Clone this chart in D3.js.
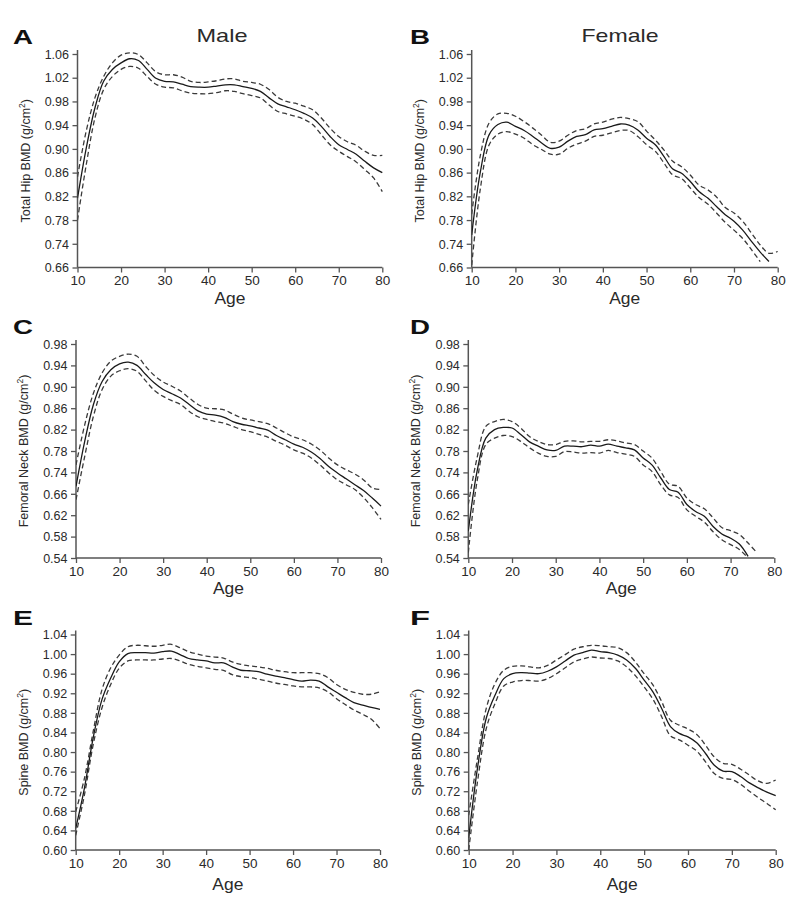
<!DOCTYPE html>
<html>
<head>
<meta charset="utf-8">
<script src="https://cdn.jsdelivr.net/npm/d3@7"></script>
<style>
  html, body { margin: 0; padding: 0; background: #fff; }
  svg { display: block; font-family: "Liberation Sans", Arial, Helvetica, sans-serif; }
</style>
</head>
<body>
<svg id="chart" width="802" height="902"></svg>
<script>
// ---------------- DATA ----------------
const AGES = [10,12,14,16,18,20,22,24,26,28,30,32,34,36,38,40,42,44,46,48,50,52,54,56,58,60,62,64,66,68,70,72,74,76,78,80];
const AGE_TICKS = [10,20,30,40,50,60,70,80];

const HIP_TICKS   = ["1.06","1.02","0.98","0.94","0.90","0.86","0.82","0.78","0.74","0.66"];
const NECK_TICKS  = ["0.98","0.94","0.90","0.86","0.82","0.78","0.74","0.66","0.62","0.58","0.54"];
const SPINE_TICKS = ["1.04","1.00","0.96","0.92","0.88","0.84","0.80","0.76","0.72","0.68","0.64","0.60"];

// Panel A – Male total hip
const A_mean  = [0.817,0.901,0.969,1.014,1.034,1.045,1.052,1.049,1.034,1.019,1.014,1.013,1.009,1.005,1.004,1.004,1.006,1.008,1.008,1.005,1.002,0.997,0.986,0.976,0.971,0.966,0.960,0.952,0.938,0.921,0.907,0.899,0.891,0.879,0.868,0.860];
const A_upper = [0.853,0.930,0.986,1.022,1.045,1.058,1.062,1.059,1.045,1.030,1.025,1.025,1.021,1.014,1.012,1.013,1.015,1.018,1.018,1.014,1.012,1.009,1.000,0.987,0.980,0.977,0.972,0.966,0.952,0.935,0.921,0.912,0.906,0.896,0.889,0.889];
const A_lower = [0.780,0.873,0.952,1.000,1.022,1.034,1.039,1.036,1.022,1.009,1.004,1.003,0.998,0.994,0.993,0.993,0.995,0.998,0.997,0.993,0.990,0.986,0.974,0.963,0.959,0.955,0.950,0.941,0.924,0.907,0.896,0.887,0.878,0.865,0.851,0.828];

// Panel B – Female total hip
const B_mean  = [0.755,0.862,0.924,0.941,0.945,0.938,0.931,0.921,0.910,0.901,0.903,0.913,0.921,0.924,0.932,0.934,0.938,0.942,0.940,0.932,0.918,0.907,0.887,0.866,0.859,0.845,0.828,0.817,0.803,0.789,0.778,0.763,0.744,0.726,0.710,null];
const B_upper = [0.790,0.890,0.944,0.959,0.960,0.955,0.946,0.935,0.923,0.911,0.913,0.923,0.931,0.934,0.942,0.945,0.950,0.953,0.951,0.946,0.930,0.915,0.898,0.879,0.870,0.856,0.839,0.831,0.819,0.801,0.792,0.778,0.758,0.738,0.724,0.727];
const B_lower = [0.704,0.834,0.907,0.925,0.929,0.925,0.918,0.907,0.899,0.891,0.891,0.901,0.908,0.913,0.921,0.923,0.927,0.931,0.931,0.921,0.907,0.896,0.876,0.856,0.850,0.834,0.818,0.807,0.792,0.776,0.763,0.749,0.730,0.710,null,null];

// Panel C – Male femoral neck
const C_mean  = [0.714,0.798,0.867,0.910,0.932,0.943,0.946,0.940,0.923,0.907,0.895,0.887,0.879,0.867,0.855,0.849,0.847,0.843,0.835,0.830,0.827,0.823,0.819,0.809,0.801,0.793,0.787,0.778,0.766,0.751,0.739,0.728,0.717,0.706,0.692,0.677];
const C_upper = [0.754,0.829,0.888,0.926,0.948,0.957,0.961,0.957,0.938,0.921,0.909,0.901,0.892,0.879,0.867,0.860,0.859,0.857,0.849,0.842,0.838,0.835,0.831,0.823,0.814,0.806,0.801,0.793,0.782,0.767,0.754,0.745,0.737,0.726,0.711,0.708];
const C_lower = [0.689,0.770,0.845,0.895,0.920,0.930,0.934,0.929,0.911,0.893,0.882,0.874,0.867,0.854,0.844,0.839,0.835,0.832,0.826,0.820,0.816,0.811,0.806,0.798,0.791,0.782,0.776,0.767,0.754,0.739,0.726,0.717,0.708,0.693,0.674,0.652];

// Panel D – Female femoral neck
const D_mean  = [0.630,0.742,0.804,0.820,0.824,0.823,0.811,0.797,0.789,0.782,0.781,0.789,0.789,0.788,0.791,0.789,0.793,0.789,0.786,0.782,0.767,0.754,0.730,0.708,0.703,0.680,0.667,0.658,0.639,0.625,0.617,0.606,0.583,null,null,null];
const D_upper = [0.680,0.767,0.826,0.835,0.839,0.835,0.823,0.807,0.798,0.792,0.792,0.798,0.799,0.797,0.798,0.798,0.801,0.799,0.795,0.792,0.780,0.767,0.742,0.718,0.714,0.692,0.680,0.672,0.655,0.637,0.631,0.624,0.608,0.590,null,null];
const D_lower = [0.590,0.723,0.792,0.804,0.809,0.807,0.798,0.786,0.776,0.770,0.770,0.779,0.778,0.776,0.777,0.776,0.781,0.777,0.774,0.770,0.754,0.742,0.717,0.698,0.693,0.670,0.658,0.647,0.629,0.614,0.605,0.596,0.580,null,null,null];

// Panel E – Male spine
const E_mean  = [0.644,0.726,0.828,0.906,0.950,0.984,1.001,1.003,1.003,1.002,1.005,1.006,0.999,0.991,0.988,0.986,0.982,0.982,0.974,0.967,0.966,0.964,0.959,0.955,0.952,0.948,0.945,0.947,0.945,0.933,0.922,0.911,0.901,0.896,0.891,0.887];
const E_upper = [0.678,0.746,0.841,0.926,0.971,0.998,1.015,1.018,1.017,1.016,1.018,1.020,1.013,1.005,1.000,0.996,0.994,0.992,0.984,0.979,0.976,0.974,0.971,0.967,0.964,0.962,0.962,0.962,0.960,0.952,0.938,0.928,0.922,0.918,0.918,0.923];
const E_lower = [0.630,0.712,0.814,0.889,0.937,0.971,0.986,0.988,0.988,0.988,0.990,0.991,0.986,0.979,0.975,0.972,0.969,0.967,0.958,0.954,0.952,0.949,0.945,0.941,0.938,0.935,0.933,0.933,0.931,0.923,0.909,0.897,0.886,0.877,0.867,0.848];

// Panel F – Female spine
const F_mean  = [0.625,0.767,0.869,0.916,0.950,0.960,0.962,0.961,0.960,0.965,0.974,0.986,0.998,1.003,1.008,1.005,1.003,0.998,0.988,0.971,0.947,0.923,0.889,0.852,0.838,0.831,0.819,0.797,0.773,0.761,0.760,0.750,0.737,0.727,0.718,0.711];
const F_upper = [0.671,0.787,0.889,0.940,0.967,0.975,0.976,0.974,0.972,0.977,0.988,0.999,1.010,1.015,1.018,1.017,1.015,1.013,1.003,0.984,0.960,0.937,0.903,0.865,0.855,0.847,0.836,0.814,0.790,0.777,0.775,0.765,0.753,0.741,0.736,0.743];
const F_lower = [0.600,0.739,0.848,0.899,0.935,0.943,0.946,0.946,0.945,0.950,0.960,0.972,0.984,0.990,0.994,0.992,0.991,0.986,0.974,0.956,0.933,0.908,0.872,0.833,0.825,0.814,0.802,0.780,0.756,0.746,0.744,0.734,0.720,0.707,0.695,0.682];

const Y_STEP = 0.04;
const COL_TITLES = ["Male", "Female"];
const Y_TITLES = ["Total Hip BMD", "Femoral Neck BMD", "Spine BMD"];

// ---------------- LAYOUT ----------------
const panels = [
  {id:"A", mean:A_mean, upper:A_upper, lower:A_lower, ticks:HIP_TICKS,   ytitle:Y_TITLES[0], x0:77.5,  x1:382.3, yTop:54,  yBot:267.5, col:0},
  {id:"B", mean:B_mean, upper:B_upper, lower:B_lower, ticks:HIP_TICKS,   ytitle:Y_TITLES[0], x0:471.7, x1:777.7, yTop:54,  yBot:267.5, col:1},
  {id:"C", mean:C_mean, upper:C_upper, lower:C_lower, ticks:NECK_TICKS,  ytitle:Y_TITLES[1], x0:76,    x1:381,   yTop:344, yBot:558,   col:0},
  {id:"D", mean:D_mean, upper:D_upper, lower:D_lower, ticks:NECK_TICKS,  ytitle:Y_TITLES[1], x0:468.3, x1:774.3, yTop:344, yBot:558,   col:1},
  {id:"E", mean:E_mean, upper:E_upper, lower:E_lower, ticks:SPINE_TICKS, ytitle:Y_TITLES[2], x0:75.7,  x1:380,   yTop:634.5, yBot:850, col:0},
  {id:"F", mean:F_mean, upper:F_upper, lower:F_lower, ticks:SPINE_TICKS, ytitle:Y_TITLES[2], x0:468.7, x1:775.7, yTop:634.5, yBot:850, col:1}
];

const svg = d3.select("#chart");
const TXT = "#2a2a2a";
const AXIS = "#555";

panels.forEach((p, pi) => {
  const top = parseFloat(p.ticks[0]);
  const n = p.ticks.length;
  const yMin = top - Y_STEP * (n - 1);
  const x = d3.scaleLinear().domain([10, 80]).range([p.x0, p.x1]);
  const y = d3.scaleLinear().domain([yMin, top]).range([p.yBot, p.yTop]);
  const tickVals = p.ticks.map((_, i) => top - Y_STEP * i);

  const g = svg.append("g");

  // clip
  const clipId = "clip" + p.id;
  svg.append("clipPath").attr("id", clipId).append("rect")
    .attr("x", p.x0).attr("y", p.yTop - 10)
    .attr("width", p.x1 - p.x0 + 4).attr("height", p.yBot - p.yTop + 10);

  // y axis
  const yAxis = d3.axisLeft(y).tickValues(tickVals)
    .tickFormat((d, i) => p.ticks[i]).tickSize(5).tickSizeOuter(0);
  const ya = g.append("g").attr("transform", `translate(${p.x0},0)`).call(yAxis);
  ya.select(".domain").remove();
  ya.selectAll(".tick line").attr("stroke", AXIS).attr("stroke-width", 1.3);
  ya.selectAll(".tick text").attr("fill", TXT).style("font-size", "12.5px").attr("x", -8.5).attr("dy", "0.34em");
  g.append("line").attr("x1", p.x0).attr("x2", p.x0)
    .attr("y1", p.yTop - 4).attr("y2", p.yBot)
    .attr("stroke", AXIS).attr("stroke-width", 1.5);

  // x axis
  const xAxis = d3.axisBottom(x).tickValues(AGE_TICKS).tickFormat(d3.format("d")).tickSize(5).tickSizeOuter(0);
  const xa = g.append("g").attr("transform", `translate(0,${p.yBot})`).call(xAxis);
  xa.select(".domain").remove();
  xa.selectAll(".tick line").attr("stroke", AXIS).attr("stroke-width", 1.3);
  xa.selectAll(".tick text").attr("fill", TXT).style("font-size", "13.5px").attr("y", 8);
  g.append("line").attr("x1", p.x0).attr("x2", p.x1)
    .attr("y1", p.yBot).attr("y2", p.yBot)
    .attr("stroke", AXIS).attr("stroke-width", 1.5);

  // x title
  g.append("text").attr("x", (p.x0 + p.x1) / 2).attr("y", p.yBot + (p.id === "E" || p.id === "F" ? 40 : 36))
    .attr("text-anchor", "middle").attr("fill", TXT)
    .style("font-size", "17px").attr("textLength", 31).attr("lengthAdjust", "spacingAndGlyphs").text("Age");

  // y title
  const yt = g.append("text")
    .attr("transform", `translate(${p.x0 - 48},${(p.yTop + p.yBot) / 2}) rotate(-90)`)
    .attr("text-anchor", "middle").attr("fill", TXT).style("font-size", "12.5px");
  yt.append("tspan").text(p.ytitle + " (g/cm");
  yt.append("tspan").attr("dy", -5).style("font-size", "8.5px").text("2");
  yt.append("tspan").attr("dy", 5).text(")");

  // lines
  const line = d3.line()
    .defined((d) => d[1] !== null)
    .x((d) => x(d[0])).y((d) => y(d[1]))
    .curve(d3.curveCatmullRom.alpha(0.5));
  const lg = g.append("g").attr("clip-path", `url(#${clipId})`);
  [p.upper, p.lower].forEach((arr) => {
    lg.append("path").datum(AGES.map((a, i) => [a, arr[i]]))
      .attr("d", line).attr("fill", "none")
      .attr("stroke", "#3a3a3a").attr("stroke-width", 1.3)
      .attr("stroke-dasharray", "5,3");
  });
  lg.append("path").datum(AGES.map((a, i) => [a, p.mean[i]]))
    .attr("d", line).attr("fill", "none")
    .attr("stroke", "#1a1a1a").attr("stroke-width", 1.3);

  // panel letter
  const letterX = p.col === 0 ? 13 : 410;
  svg.append("text").attr("x", letterX).attr("y", p.yTop - 10)
    .attr("fill", "#111").style("font-size", "21px").style("font-weight", "bold")
    .attr("textLength", 20).attr("lengthAdjust", "spacingAndGlyphs")
    .text(p.id);

  // column titles
  if (pi < 2) {
    svg.append("text").attr("x", pi === 0 ? 222 : 620).attr("y", 42)
      .attr("text-anchor", "middle").attr("fill", TXT)
      .style("font-size", "19px")
      .attr("textLength", pi === 0 ? 51 : 77).attr("lengthAdjust", "spacingAndGlyphs")
      .text(COL_TITLES[pi]);
  }
});
</script>
</body>
</html>
